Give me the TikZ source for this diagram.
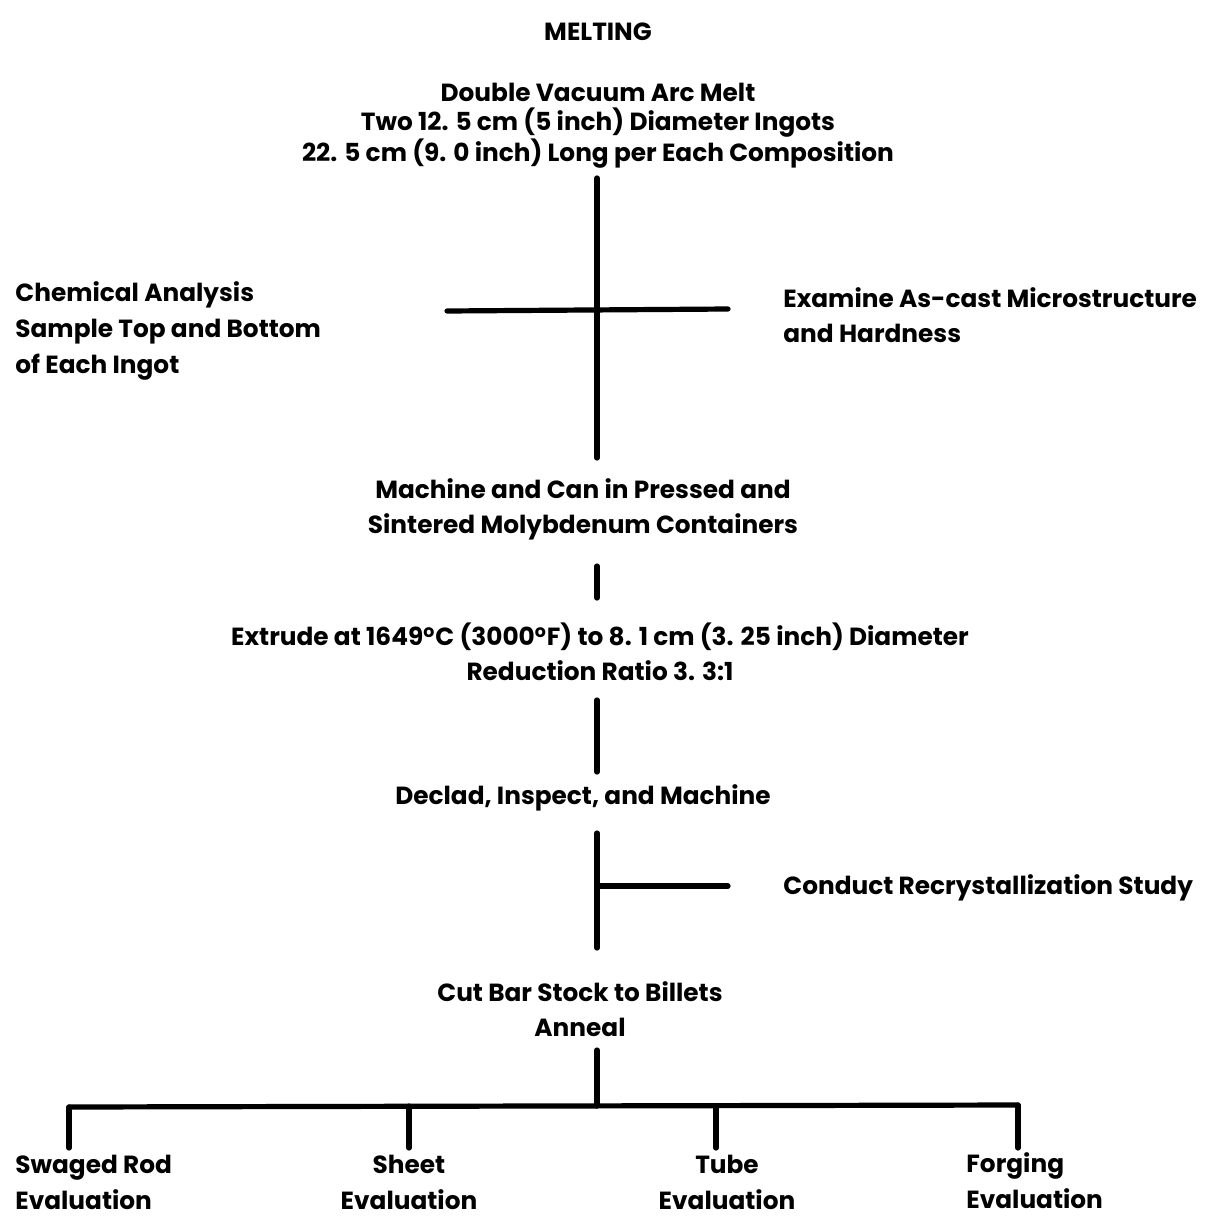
\documentclass[tikz,border=0pt]{standalone}
\usepackage{fontspec}
\setmainfont{Poppins}
\begin{document}
\begin{tikzpicture}[x=0.5pt,y=-0.5pt,
  txt/.style={font=\bfseries\fontsize{12.4}{17.5}\selectfont, inner sep=0pt, align=center},
  txtl/.style={txt, align=left, anchor=west},
  bot/.style={txt, font=\bfseries\fontsize{12.4}{18}\selectfont, anchor=north},
  botl/.style={bot, align=left, anchor=north west},
  ln/.style={line width=2.6pt, line cap=round}]
\useasboundingbox (0,0) rectangle (1205,1221);
% text nodes
\node[txt] (melt) at (598,32) {MELTING};
\node[txt, font=\bfseries\fontsize{12.4}{14.3}\selectfont] (melt2) at (598,126) {Double Vacuum Arc Melt\\Two 12. 5 cm (5 inch) Diameter Ingots\\22. 5 cm (9. 0 inch) Long per Each Composition};
\node[txtl, font=\bfseries\fontsize{12.4}{18}\selectfont] (chem) at (15,331) {Chemical Analysis\\Sample Top and Bottom\\of Each Ingot};
\node[txtl] (exam) at (783,315) {Examine As-cast Microstructure\\and Hardness};
\node[txt] (mach) at (583,509) {Machine and Can in Pressed and\\Sintered Molybdenum Containers};
\node[txt] (extr) at (600,652) {Extrude at 1649\textsuperscript{o}C (3000\textsuperscript{o}F) to 8. 1 cm (3. 25 inch) Diameter\\Reduction Ratio 3. 3:1};
\node[txt] (decl) at (583,798) {Declad, Inspect, and Machine};
\node[txtl] (recr) at (783,888) {Conduct Recrystallization Study};
\node[txt] (cut) at (580,1009) {Cut Bar Stock to Billets\\Anneal};
\node[botl] (swag) at (15,1155) {Swaged Rod\\Evaluation};
\node[bot] (sheet) at (409,1155) {Sheet\\Evaluation};
\node[bot] (tube) at (727,1155) {Tube\\Evaluation};
\node[botl] (forg) at (966,1152) {Forging\\Evaluation};
% coordinates
\coordinate (a1) at (597,178);
\coordinate (a2) at (597,458);
\coordinate (hl) at (447,311);
\coordinate (hr) at (728,309);
\coordinate (b1) at (597,566);
\coordinate (b2) at (597,598);
\coordinate (c1) at (597,700);
\coordinate (c2) at (597,772);
\coordinate (d1) at (597,833);
\coordinate (d2) at (597,948);
\coordinate (dj) at (597,886);
\coordinate (dr) at (728,886);
\coordinate (e1) at (597,1050);
\coordinate (e2) at (597,1106);
\coordinate (busl) at (69,1107);
\coordinate (busr) at (1018,1105);
\coordinate (f1a) at (69,1107);  \coordinate (f1b) at (69,1148);
\coordinate (f2a) at (409,1106); \coordinate (f2b) at (409,1148);
\coordinate (f3a) at (716,1106); \coordinate (f3b) at (716,1148);
\coordinate (f4a) at (1018,1105);\coordinate (f4b) at (1018,1148);
% connectors
\draw[ln] (a1) -- (a2);
\draw[ln] (hl) -- (hr);
\draw[ln] (b1) -- (b2);
\draw[ln] (c1) -- (c2);
\draw[ln] (d1) -- (d2);
\draw[ln] (dj) -- (dr);
\draw[ln] (e1) -- (e2);
\draw[ln] (busl) -- (busr);
\draw[ln] (f1a) -- (f1b);
\draw[ln] (f2a) -- (f2b);
\draw[ln] (f3a) -- (f3b);
\draw[ln] (f4a) -- (f4b);
\end{tikzpicture}
\end{document}
